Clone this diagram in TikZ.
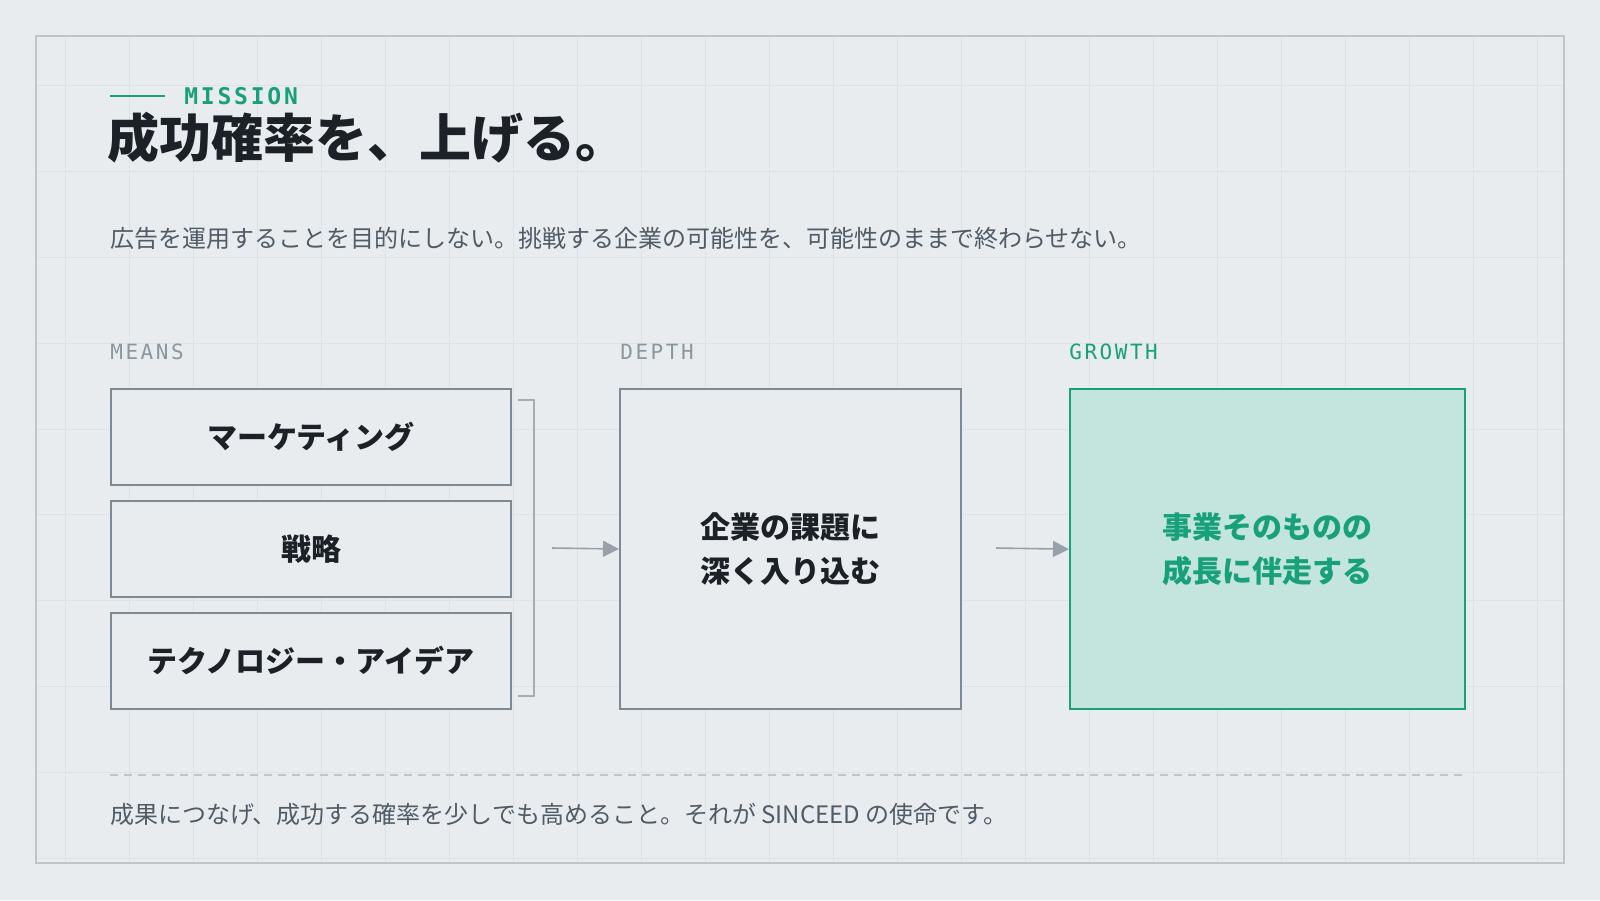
\documentclass[tikz,border=0pt]{standalone}
\usepackage{fontspec}
\setmainfont{Noto Sans CJK JP}
\newfontfamily\labelfont[LetterSpace=12]{DejaVu Sans Mono}
\usetikzlibrary{arrows.meta,positioning}
\definecolor{paper}{HTML}{E8ECEF}
\definecolor{rule}{HTML}{BFC5CA}
\definecolor{gridline}{HTML}{DDE2E6}
\definecolor{ink}{HTML}{1B2126}
\definecolor{slate}{HTML}{4F5B66}
\definecolor{steel}{HTML}{7E8A93}
\definecolor{labelgray}{HTML}{8B979F}
\definecolor{mint}{HTML}{17A07A}
\definecolor{mintfill}{HTML}{C3E5DD}
\tikzset{
  box/.style={draw=steel, line width=1pt, fill=paper, inner sep=0pt, anchor=north west, font=\fontsize{15}{22}\selectfont\bfseries, text=ink, align=center},
  tag/.style={anchor=west, inner sep=0pt, font=\labelfont\fontsize{10.5}{12}\selectfont, text=labelgray},
  flow/.style={draw=steel!80, line width=0.8pt, -{Triangle[length=8pt,width=8pt]}},
}
\begin{document}
\begin{tikzpicture}[x=0.5pt,y=-0.5pt]
    % Background and grid
    \fill[paper] (0,0) rectangle (1600,900);
    \useasboundingbox (0,0) rectangle (1600,900);
    \begin{scope}
        \clip (36,36) rectangle (1564,863);
        \foreach \x in {1,...,24} {
            \draw[gridline, line width=0.4pt] (1+64*\x,36) -- (1+64*\x,863);
        }
        \foreach \y in {1,...,10} {
            \draw[gridline, line width=0.4pt] (36,85.8*\y) -- (1564,85.8*\y);
        }
    \end{scope}
    \draw[rule, line width=1pt] (36,36) rectangle (1564,863);

    % Heading
    \draw[mint, line width=1.2pt] (110,96) -- (165,96);
    \node[tag, text=mint, font=\labelfont\fontsize{11.5}{12}\selectfont\bfseries] (mission) at (184,96) {MISSION};
    \node[anchor=west, inner sep=0pt, text=ink, font=\fontsize{26}{30}\selectfont\bfseries] (title) at (107,138) {成功確率を、上げる。};
    \node[anchor=west, inner sep=0pt, text=slate, font=\fontsize{12}{14}\selectfont] (lead) at (110,238)
        {広告を運用することを目的にしない。挑戦する企業の可能性を、可能性のままで終わらせない。};

    % Column labels
    \node[tag] (means) at (110,352) {MEANS};
    \node[tag] (depth) at (620,352) {DEPTH};
    \node[tag, text=mint] (growth) at (1069,352) {GROWTH};

    % Means boxes
    \node[box, minimum width=200pt, minimum height=48pt] (marketing) at (110,388) {マーケティング};
    \node[box, minimum width=200pt, minimum height=48pt] (strategy) at (110,500) {戦略};
    \node[box, minimum width=200pt, minimum height=48pt] (tech) at (110,612) {テクノロジー・アイデア};

    % Bracket
    \coordinate (brtop) at (518,400);
    \coordinate (brbot) at (518,696);
    \draw[steel!70, line width=0.8pt] (brtop) -- ++(16,0) |- (brbot);

    % Depth and growth boxes
    \node[box, minimum width=170.5pt, minimum height=160pt] (issue) at (619,388) {企業の課題に\\深く入り込む};
    \node[box, draw=mint, fill=mintfill, text=mint, line width=1.2pt, minimum width=197.5pt, minimum height=160pt] (partner) at (1069,388) {事業そのものの\\成長に伴走する};

    % Arrows
    \coordinate (a1) at (552,548);
    \coordinate (a2) at (996,548);
    \draw[flow] (a1) -- (issue.west);
    \draw[flow] (a2) -- (partner.west);

    % Footer
    \coordinate (dl) at (110,775);
    \coordinate (dr) at (1464,775);
    \draw[rule, line width=0.8pt, dash pattern=on 4pt off 3pt] (dl) -- (dr);
    \node[anchor=west, inner sep=0pt, text=slate, font=\fontsize{12}{14}\selectfont] (closing) at (110,814)
        {成果につなげ、成功する確率を少しでも高めること。それが SINCEED の使命です。};
\end{tikzpicture}
\end{document}
